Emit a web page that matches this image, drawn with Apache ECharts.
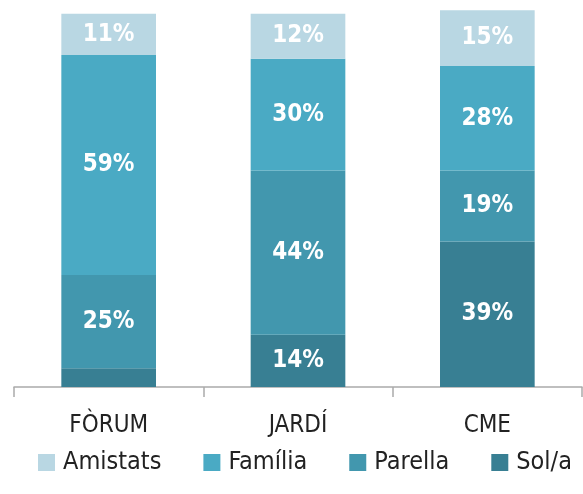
<!DOCTYPE html>
<html>
<head>
<meta charset="utf-8">
<script src="https://cdn.jsdelivr.net/npm/echarts@6/dist/echarts.min.js"></script>
<style>
  html, body { margin: 0; padding: 0; background: #fff; }
  #chart { width: 583px; height: 494px; }
</style>
</head>
<body>
<div id="chart"></div>
<script>
// categories and values (%)
const categories = ["FÒRUM", "JARDÍ", "CME"];
const solA = [5, 14, 39];
const parella = [25, 44, 19];
const familia = [59, 30, 28];
const amistats = [11, 12, 15];
// labels hidden where the segment is too small
const hideBelow = 8;

const font = "'DejaVu Sans Condensed', 'DejaVu Sans', sans-serif";

function makeSeries(name, values, color) {
    return {
        name: name,
        type: "bar",
        stack: "total",
        barWidth: "50%",
        clip: false,
        itemStyle: { color: color },
        label: {
            show: true,
            position: "inside",
            color: "#fff",
            fontFamily: font,
            fontWeight: "bold",
            fontSize: 24,
            formatter: p => (p.value < hideBelow ? "" : p.value + "%")
        },
        data: values
    };
}

const chart = echarts.init(document.getElementById("chart"));
chart.setOption({
    animation: false,
    grid: { left: 14, right: 1, top: 12, bottom: 107 },
    legend: {
        bottom: 14,
        left: 33,
        itemWidth: 17,
        itemHeight: 17,
        itemGap: 42,
        icon: "rect",
        textStyle: { fontFamily: font, fontSize: 25, color: "#222", padding: [0, 0, 0, 3] },
        data: ["Amistats", "Família", "Parella", "Sol/a"]
    },
    xAxis: {
        type: "category",
        data: categories,
        axisLine: { lineStyle: { color: "#aaa", width: 1.5 } },
        axisTick: { show: true, length: 10, lineStyle: { color: "#aaa", width: 1.5 } },
        axisLabel: { fontFamily: font, fontSize: 24, color: "#222", margin: 27 }
    },
    yAxis: {
        type: "value",
        min: 0,
        max: 100.5,
        show: false
    },
    series: [
        makeSeries("Sol/a", solA, "#387f93"),
        makeSeries("Parella", parella, "#4297ae"),
        makeSeries("Família", familia, "#4aaac4"),
        makeSeries("Amistats", amistats, "#b9d7e3")
    ]
});
</script>
</body>
</html>
